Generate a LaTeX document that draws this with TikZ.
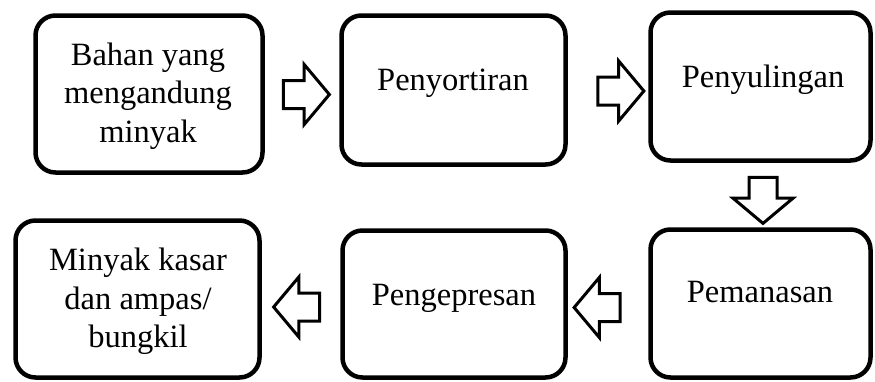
\documentclass[tikz,border=0pt]{standalone}
\usepackage{fontspec}
\setmainfont{Liberation Serif}
\usetikzlibrary{shapes.arrows}
\begin{document}
\begin{tikzpicture}[x=1pt,y=-1pt,
  stepbox/.style={draw=black, line width=4.5pt, rounded corners=20pt, inner sep=0pt},
  label/.style={inner sep=0pt, align=center, text=black,
    font=\fontsize{32.5}{38.5}\selectfont},
  blockarrow/.style={draw=black, fill=white, line width=3pt, single arrow,
    inner xsep=0pt, inner ysep=12.5pt, minimum height=46pt,
    single arrow head extend=16pt, single arrow tip angle=100}]
\path[use as bounding box] (0,0) rectangle (875,381);

% process boxes
\node[stepbox, minimum width=227pt, minimum height=157pt] (b1) at (149,94) {};
\node[stepbox, minimum width=224pt, minimum height=149pt] (b2) at (453.5,90) {};
\node[stepbox, minimum width=220pt, minimum height=148pt] (b3) at (760.5,86.5) {};
\node[stepbox, minimum width=244pt, minimum height=157pt] (b4) at (137.5,299) {};
\node[stepbox, minimum width=223pt, minimum height=147pt] (b5) at (454,304) {};
\node[stepbox, minimum width=220pt, minimum height=148pt] (b6) at (760.5,303.5) {};

% box texts
\node[label] (t1) at (148,96) {Bahan yang\\mengandung\\minyak};
\node[label, anchor=base] (t2) at (453,90) {Penyortiran};
\node[label, anchor=base] (t3) at (763,87) {Penyulingan};
\node[label] (t4) at (138,301.5) {Minyak kasar\\dan ampas/\\bungkil};
\node[label, anchor=base] (t5) at (454,305) {Pengepresan};
\node[label, anchor=base] (t6) at (760,302) {Pemanasan};

% block arrows between the steps
\node[blockarrow] (a1) at (300.5,94.5) {};
\node[blockarrow] (a2) at (615,91) {};
\node[blockarrow, rotate=-90] (a3) at (763,194.5) {};
\node[blockarrow, rotate=180] (a4) at (603,307.5) {};
\node[blockarrow, rotate=180] (a5) at (302.5,307) {};
\end{tikzpicture}
\end{document}
